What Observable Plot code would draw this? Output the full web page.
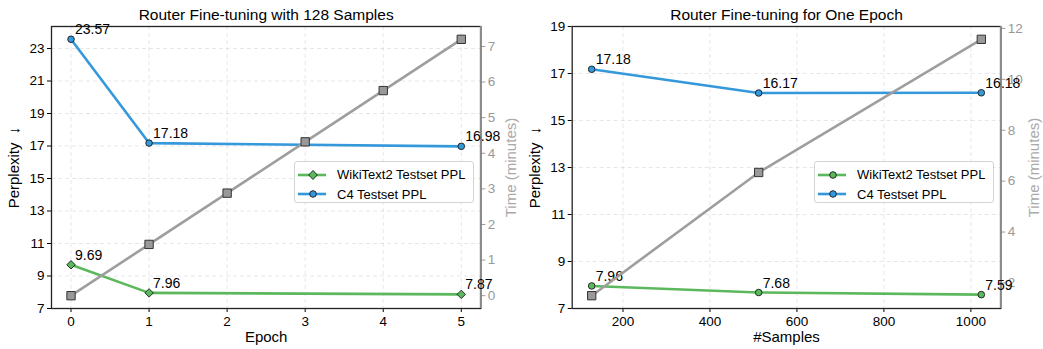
<!DOCTYPE html>
<html><head><meta charset="utf-8">
<script src="https://cdn.jsdelivr.net/npm/d3@7"></script>
<script src="https://cdn.jsdelivr.net/npm/@observablehq/plot@0.6"></script>
<style>
html,body{margin:0;padding:0;background:#fff;}
#wrap{position:relative;width:1043px;height:349px;display:flex;font-family:"Liberation Sans",Arial,sans-serif;}
.panel{position:relative;}
.legend{position:absolute;background:rgba(255,255,255,0.85);border:1px solid #d4d4d4;border-radius:3px;font-size:13px;padding:3px 0 2px 0;box-sizing:border-box;}
.legend .row{display:flex;align-items:center;height:19.5px;}
.legend svg{margin:0 11px 0 3px;}
</style>
</head><body>
<div id="wrap"></div>
<script>
// ---- data ----
const epochs = [0, 1, 2, 3, 4, 5];
const wikiEpochX = [0, 1, 5];
const wikiEpoch = [9.69, 7.96, 7.87];
const c4Epoch = [23.57, 17.18, 16.98];
const timeEpoch = [0, 1.44, 2.88, 4.32, 5.76, 7.2];

const samples = [128, 512, 1024];
const wikiSamples = [7.96, 7.68, 7.59];
const c4Samples = [17.18, 16.17, 16.18];
const timeSamples = [1.5, 6.34, 11.57];

const epochTicks = [0, 1, 2, 3, 4, 5];
const sampleTicks = [200, 400, 600, 800, 1000];
const pplTicksLeft = [7, 9, 11, 13, 15, 17, 19, 21, 23];
const pplTicksRight = [7, 9, 11, 13, 15, 17, 19];
const timeTicksLeft = [0, 1, 2, 3, 4, 5, 6, 7];
const timeTicksRight = [2, 4, 6, 8, 10, 12];

const seriesNames = ["WikiText2 Testset PPL", "C4 Testset PPL"];
const GREEN = "#5cb85c", BLUE = "#3498db", GRAY_LINE = "#a09d9d", GRAY_AX = "#999";
const FONT = '"Liberation Sans", Arial, sans-serif';

function pad5(vals) {
  const [a, b] = d3.extent(vals); const p = (b - a) * 0.05; return [a - p, b + p];
}

function panel(o) {
  const tDom = pad5(o.time);
  const toY = d3.scaleLinear(tDom, o.yDomain);
  const wiki = o.wx.map((x, i) => ({x, y: o.wiki[i]}));
  const c4 = o.cx.map((x, i) => ({x, y: o.c4[i]}));
  const tm = o.tx.map((x, i) => ({x, t: o.time[i]}));
  const grid = {stroke: "#bbb", strokeOpacity: 0.45, strokeDasharray: "4,3", strokeWidth: 0.8};
  const ann = {x: "x", y: "y", text: d => d.y.toFixed(2), textAnchor: "start", lineAnchor: "bottom", dx: 4, dy: -5, fontSize: 14, fill: "#000"};
  return Plot.plot({
    width: o.width, height: 349,
    marginTop: 26, marginBottom: 41, marginLeft: o.ml, marginRight: o.mr,
    style: {fontFamily: FONT, fontSize: "13.5px", color: "#000", background: "transparent", overflow: "visible"},
    x: {domain: o.xDomain},
    y: {domain: o.yDomain},
    marks: [
      Plot.gridX(o.xTicks, grid),
      Plot.gridY(o.yTicks, grid),
      Plot.axisX(o.xTicks, {label: null, tickSize: 4, tickPadding: 4, fontSize: 13.5, tickFormat: d => String(d)}),
      Plot.axisY(o.yTicks, {label: null, tickSize: 4, tickPadding: 3, fontSize: 13.5, tickFormat: d => String(d)}),
      Plot.axisY(o.tTicks.map(t => toY(t)), {anchor: "right", label: null, tickSize: 4, tickPadding: 3, fontSize: 13.5,
        color: GRAY_AX, tickFormat: d => String(Math.round(toY.invert(d)))}),
      Plot.frame({stroke: "#222", strokeWidth: 1.3}),
      Plot.ruleX([o.xDomain[1]], {stroke: "#8a8a8a", strokeWidth: 2}),
      Plot.text([o.title], {frameAnchor: "top", lineAnchor: "bottom", dy: -7, fontSize: 15.5}),
      Plot.text([o.xLabel], {frameAnchor: "bottom", dy: 33, fontSize: 15}),
      Plot.text(["Perplexity  ↓"], {frameAnchor: "left", textAnchor: "middle", rotate: -90, dx: -37, fontSize: 15}),
      Plot.text(["Time (minutes)"], {frameAnchor: "right", textAnchor: "middle", rotate: -90, dx: o.tLabelDx, fontSize: 15, fill: "#aaa"}),
      Plot.line(wiki, {x: "x", y: "y", stroke: GREEN, strokeWidth: 2.6}),
      Plot.dot(wiki, {x: "x", y: "y", symbol: o.wikiSymbol, r: o.wikiR, fill: GREEN, stroke: "#1a1a1a", strokeWidth: 0.9}),
      Plot.line(c4, {x: "x", y: "y", stroke: BLUE, strokeWidth: 2.6}),
      Plot.dot(c4, {x: "x", y: "y", symbol: "circle", r: 3.3, fill: BLUE, stroke: "#1a1a1a", strokeWidth: 0.9}),
      Plot.text(wiki, ann),
      Plot.text(c4, ann),
      Plot.line(tm, {x: "x", y: d => toY(d.t), stroke: GRAY_LINE, strokeWidth: 2.6}),
      Plot.dot(tm, {x: "x", y: d => toY(d.t), symbol: "square", r: 4.7, fill: "#999", stroke: "#333", strokeWidth: 1})
    ]
  });
}

function legend(left, top, wikiSymbol) {
  const div = document.createElement("div");
  div.className = "legend";
  div.style.left = left + "px"; div.style.top = top + "px"; div.style.width = "180px"; div.style.height = "42px";
  const mk = (color, sym) => {
    const shape = sym === "diamond"
      ? `<path d="M15,4.5 L19.3,9 L15,13.5 L10.7,9 Z" fill="${color}" stroke="#1a1a1a" stroke-width="0.9"/>`
      : `<circle cx="15" cy="9" r="3.3" fill="${color}" stroke="#1a1a1a" stroke-width="0.9"/>`;
    return `<svg width="28" height="18"><line x1="0" x2="28" y1="9" y2="9" stroke="${color}" stroke-width="2.6"/>${shape}</svg>`;
  };
  div.innerHTML =
    `<div class="row">${mk(GREEN, wikiSymbol)}<span>${seriesNames[0]}</span></div>` +
    `<div class="row">${mk(BLUE, "circle")}<span>${seriesNames[1]}</span></div>`;
  return div;
}

const wrap = document.getElementById("wrap");
const p1 = document.createElement("div"); p1.className = "panel";
p1.appendChild(panel({
  width: 521, ml: 51, mr: 40.7,
  title: "Router Fine-tuning with 128 Samples", xLabel: "Epoch",
  xDomain: [-0.25, 5.25], xTicks: epochTicks,
  yDomain: [7, 24.355], yTicks: pplTicksLeft, tTicks: timeTicksLeft, tLabelDx: 30,
  wx: wikiEpochX, wiki: wikiEpoch, cx: wikiEpochX, c4: c4Epoch, tx: epochs, time: timeEpoch,
  wikiSymbol: "diamond2", wikiR: 3.8
}));
const p2 = document.createElement("div"); p2.className = "panel";
p2.appendChild(panel({
  width: 522, ml: 50.7, mr: 42.7,
  title: "Router Fine-tuning for One Epoch", xLabel: "#Samples",
  xDomain: [83.2, 1068.8], xTicks: sampleTicks,
  yDomain: [7, 19], yTicks: pplTicksRight, tTicks: timeTicksRight, tLabelDx: 33,
  wx: samples, wiki: wikiSamples, cx: samples, c4: c4Samples, tx: samples, time: timeSamples,
  wikiSymbol: "circle", wikiR: 3.3
}));
wrap.appendChild(p1); wrap.appendChild(p2);
wrap.appendChild(legend(294, 161, "diamond"));
wrap.appendChild(legend(814, 161, "circle"));
</script>
</body></html>
